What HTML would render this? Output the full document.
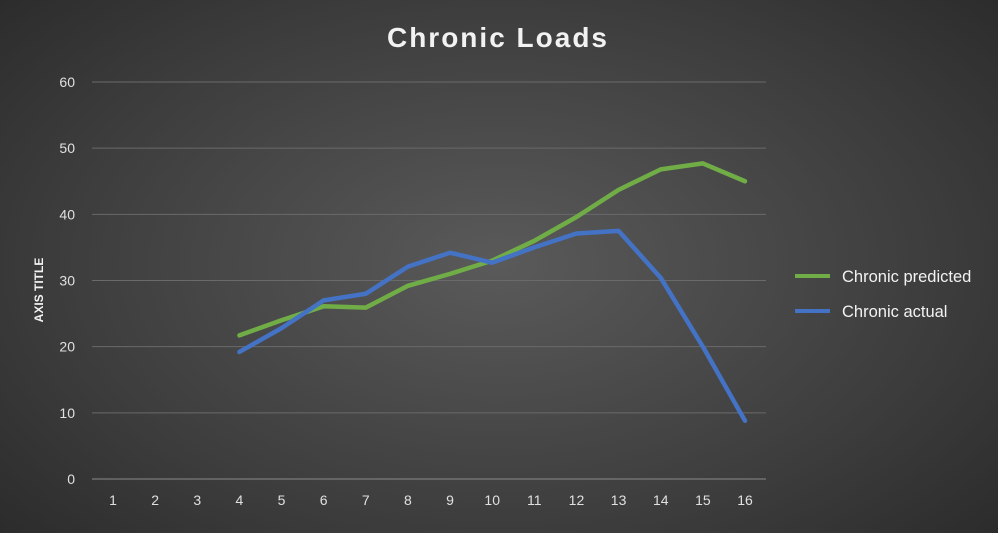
<!DOCTYPE html>
<html><head><meta charset="utf-8"><style>
html,body{margin:0;padding:0;}
body{width:998px;height:528px;overflow:hidden;background:radial-gradient(ellipse 75% 85% at 50% 50%,#5a5a5a 0%,#3c3c3c 60%,#262626 100%);font-family:"Liberation Sans",sans-serif;}
</style></head><body>
<svg width="998" height="528" id="chart">
<text x="498" y="47" text-anchor="middle" fill="#f2f2f2" font-size="28" font-weight="bold" letter-spacing="2">Chronic Loads</text>
<text transform="translate(43,290) rotate(-90)" text-anchor="middle" fill="#f2f2f2" font-size="12" font-weight="bold">AXIS TITLE</text>
<g id="grid"></g><g id="xt"></g><g id="series"></g>
<g>
<line x1="795" y1="276" x2="830" y2="276" stroke="#70ad47" stroke-width="4"/>
<text x="842" y="282" fill="#f2f2f2" font-size="16.5">Chronic predicted</text>
<line x1="795" y1="311" x2="830" y2="311" stroke="#4472c4" stroke-width="4"/>
<text x="842" y="317" fill="#f2f2f2" font-size="16.5">Chronic actual</text>
</g>
</svg>
<script>
const categories=[1,2,3,4,5,6,7,8,9,10,11,12,13,14,15,16];
const predicted=[null,null,null,21.7,24,26.1,25.9,29.2,31,33,36,39.6,43.7,46.8,47.7,45];
const actual=[null,null,null,19.2,22.8,27,28,32.1,34.2,32.7,35,37.1,37.5,30.4,20,8.8];
const yTicks=[0,10,20,30,40,50,60];
const NS="http://www.w3.org/2000/svg";
const x=i=>113+i*(745-113)/15;
const y=v=>479-v*(479-82)/60;
function mk(t,a,p){const e=document.createElementNS(NS,t);for(const k in a)e.setAttribute(k,a[k]);p.appendChild(e);return e;}
const g=document.getElementById('grid');
yTicks.forEach(t=>{
const l=mk('line',{x1:92,x2:766,y1:y(t),y2:y(t),stroke:t===0?'#8a8a8a':'#6a6a6a','stroke-width':1},g);


const tx=mk('text',{x:75,y:y(t)+5,'text-anchor':'end',fill:'#e0e0e0','font-size':14},g);
tx.textContent=t;


});
const xt=document.getElementById('xt');
categories.forEach((c,i)=>{
const tx=mk('text',{x:x(i),y:505,'text-anchor':'middle',fill:'#e0e0e0','font-size':14},xt);
tx.textContent=c;


});
const s=document.getElementById('series');
[[predicted,'#70ad47','line-chronic-predicted'],[actual,'#4472c4','line-chronic-actual']].forEach(([d,c,n])=>{
const pts=[];d.forEach((v,i)=>{if(v!=null)pts.push(x(i)+','+y(v));});
const p=mk('polyline',{points:pts.join(' '),fill:'none',stroke:c,'stroke-width':4.5,'stroke-linejoin':'round','stroke-linecap':'round'},s);


});
</script>
</body></html>
